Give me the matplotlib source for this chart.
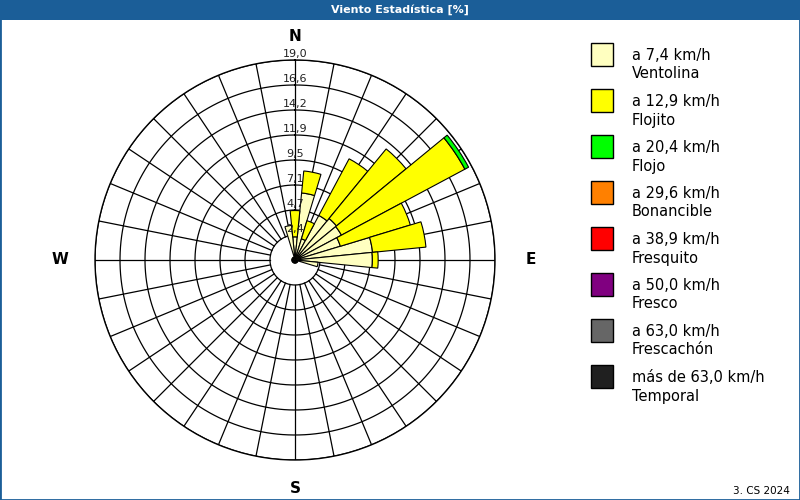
import numpy as np
import matplotlib
matplotlib.use("Agg")
import matplotlib.pyplot as plt
from matplotlib.patches import Rectangle

plt.rcParams["font.family"] = ["DejaVu Sans"]

TITULO = "Viento Estadística [%]"
PIE = "3. CS 2024"

# 32 rumbos, en sentido horario desde el norte
DIRECCIONES = ["N", "NxE", "NNE", "NExN", "NE", "NExE", "ENE", "ExN",
               "E", "ExS", "ESE", "SExE", "SE", "SExS", "SSE", "SxE",
               "S", "SxW", "SSW", "SWxS", "SW", "SWxW", "WSW", "WxS",
               "W", "WxN", "WNW", "NWxW", "NW", "NWxN", "NNW", "NxW"]

# frecuencias [%] por clase de velocidad
ventolina = [2.2, 6.4, 2.1, 4.8, 5.1, 5.0, 4.5, 7.4, 7.35, 2.2] + [0.3] * 21 + [3.3]
flojito = [2.5, 2.1, 1.8, 6.1, 8.55, 13.3, 6.95, 5.1, 0.55] + [0.0] * 23
flojo = [0.0] * 5 + [0.4] + [0.0] * 26
bonancible = [0.0] * 32
fresquito = [0.0] * 32
fresco = [0.0] * 32
frescachon = [0.0] * 32
temporal = [0.0] * 32

CLASES = [ventolina, flojito, flojo, bonancible, fresquito, fresco, frescachon, temporal]
COLORES = ["#FFFFC0", "#FFFF00", "#00FF00", "#FF8000",
           "#FF0000", "#800080", "#666666", "#202020"]
LEY_VEL = ["a 7,4 km/h", "a 12,9 km/h", "a 20,4 km/h", "a 29,6 km/h",
           "a 38,9 km/h", "a 50,0 km/h", "a 63,0 km/h", "más de 63,0 km/h"]
LEY_NOMBRE = ["Ventolina", "Flojito", "Flojo", "Bonancible",
              "Fresquito", "Fresco", "Frescachón", "Temporal"]

R_MAX = 19.0
N_ANILLOS = 8
ANILLO_TXT = ["2,4", "4,7", "7,1", "9,5", "11,9", "14,2", "16,6", "19,0"]

AZUL = "#1b5e98"

fig = plt.figure(figsize=(8, 5), dpi=100)
fig.patch.set_facecolor("white")

# barra de titulo
fig.add_artist(Rectangle((0, 1 - 20 / 500), 1, 20 / 500, transform=fig.transFigure,
                         facecolor=AZUL, edgecolor="none", zorder=0))
fig.add_artist(Rectangle((0, 0), 1, 1, transform=fig.transFigure, fill=False,
                         edgecolor=AZUL, linewidth=2, zorder=0))
fig.text(0.5, 1 - 10 / 500, TITULO, color="white", ha="center", va="center",
         fontsize=8, fontweight="bold")

# rosa de los vientos
ax = fig.add_axes([95 / 800, 40 / 500, 400 / 800, 400 / 500], projection="polar")
ax.set_theta_zero_location("N")
ax.set_theta_direction(-1)
ax.set_ylim(0, R_MAX)
ax.set_xticks([])
ax.set_yticks([])
ax.grid(False)
ax.spines["polar"].set_color("black")
ax.spines["polar"].set_linewidth(1)

n = len(DIRECCIONES)
ang = np.arange(n) * 2 * np.pi / n
anillos = np.arange(1, N_ANILLOS + 1) * R_MAX / N_ANILLOS

t = np.linspace(0, 2 * np.pi, 400)
for r in anillos:
    ax.plot(t, np.full_like(t, r), color="black", lw=0.9, zorder=1)
for a in ang:
    ax.plot([a, a], [anillos[0], R_MAX], color="black", lw=0.9, zorder=1)

base = np.zeros(n)
for vals, col in zip(CLASES, COLORES):
    v = np.array(vals)
    m = v > 0
    if m.any():
        ax.bar(ang[m], v[m], width=2 * np.pi / n, bottom=base[m], color=col,
               edgecolor="black", linewidth=0.8, zorder=2)
    base += v

for r, txt in zip(anillos, ANILLO_TXT):
    ax.annotate(txt, (0, r), xytext=(0, 1), textcoords="offset points",
                ha="center", va="bottom", fontsize=8, color="#202020", zorder=3,
                annotation_clip=False)

for lab, a, r in [("N", 0, 21.2), ("E", np.pi / 2, 22.4),
                  ("S", np.pi, 21.7), ("W", 3 * np.pi / 2, 22.3)]:
    ax.text(a, r, lab, ha="center", va="center", fontsize=11,
            fontweight="bold", clip_on=False)

# leyenda en coordenadas de pixel
lax = fig.add_axes([0, 0, 1, 1])
lax.set_xlim(0, 800)
lax.set_ylim(500, 0)
lax.axis("off")
lax.patch.set_alpha(0)
for k, (col, vel, nom) in enumerate(zip(COLORES, LEY_VEL, LEY_NOMBRE)):
    y0 = 43 + 46 * k
    lax.add_patch(Rectangle((591, y0), 22, 23, facecolor=col,
                            edgecolor="black", linewidth=1))
    lax.text(632, y0 + 12, vel, ha="left", va="center", fontsize=10.5)
    lax.text(632, y0 + 31, nom, ha="left", va="center", fontsize=10.5)

lax.text(790, 491, PIE, ha="right", va="center", fontsize=7.5)

fig.savefig("out.png", dpi=100, facecolor="white")
